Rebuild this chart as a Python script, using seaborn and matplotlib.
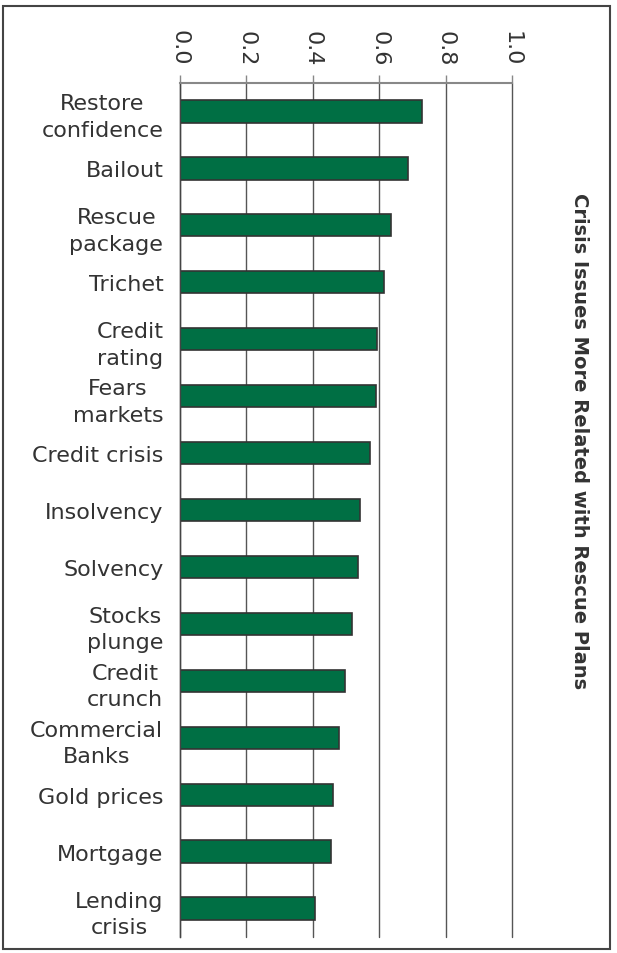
import numpy as np
import matplotlib
matplotlib.use("Agg")
import matplotlib.pyplot as plt
import seaborn as sns
from matplotlib.patches import Rectangle

# Data
terms = ["Restore\nconfidence", "Bailout", "Rescue\npackage", "Trichet",
         "Credit\nrating", "Fears\nmarkets", "Credit crisis", "Insolvency",
         "Solvency", "Stocks\nplunge", "Credit\ncrunch", "Commercial\nBanks",
         "Gold prices", "Mortgage", "Lending\ncrisis"]
scores = [0.730, 0.687, 0.637, 0.613, 0.594, 0.589, 0.571, 0.542,
          0.536, 0.519, 0.496, 0.479, 0.460, 0.454, 0.408]
x_ticks = [0.0, 0.2, 0.4, 0.6, 0.8, 1.0]
x_labels = ["0.0", "0.2", "0.4", "0.6", "0.8", "1.0"]
title = "Crisis Issues More Related with Rescue Plans"

sns.set_style("white")
plt.rcParams["font.family"] = ["DejaVu Sans"]

fig = plt.figure(figsize=(6.17, 9.54), dpi=100)
ax = fig.add_axes([180 / 617, 1 - 938 / 954, 332 / 617, 854 / 954])

sns.barplot(x=scores, y=terms, ax=ax, orient="h", color="#006f44",
            saturation=1, width=0.39, edgecolor="#333333", linewidth=1.2)

ax.set_xlim(0, 1)
ax.set_ylim(len(terms) - 0.5, -0.5)
ax.set_xlabel("")
ax.set_ylabel("")

# x axis on top, labels rotated
ax.xaxis.tick_top()
ax.set_xticks(x_ticks)
ax.set_xticklabels(x_labels, rotation=-90, fontsize=16, color="#333333")
ax.tick_params(axis="x", which="major", length=6, width=1, color="#888888",
               pad=7, direction="out")
ax.grid(axis="x", color="#555555", linewidth=1)
ax.grid(axis="y", visible=False)
for gl in ax.get_xgridlines():
    gl.set_clip_on(False)
ax.set_axisbelow(True)

# y axis: category labels without ticks, small ticks between categories
ax.tick_params(axis="y", which="major", length=0, pad=12, labelsize=16,
               labelcolor="#333333")
ax.set_yticks(np.arange(-0.5, len(terms), 1), minor=True)
ax.tick_params(axis="y", which="minor", length=6, width=1, color="#888888",
               direction="out")
for lbl in ax.get_yticklabels():
    lbl.set_multialignment("center")
    lbl.set_linespacing(1.4)

for side in ["right", "bottom"]:
    ax.spines[side].set_visible(False)
ax.spines["top"].set_color("#888888")
ax.spines["top"].set_linewidth(1.5)
ax.spines["left"].set_color("#444444")
ax.spines["left"].set_linewidth(1)

fig.text(0.94, 1 - 441 / 954, title, rotation=-90, ha="center", va="center",
         fontsize=14, fontweight="bold", color="#333333")

# frame around the whole chart
fig.add_artist(Rectangle((3 / 617, 4 / 954), 607 / 617, 943 / 954,
                         transform=fig.transFigure, fill=False,
                         edgecolor="#444444", linewidth=1.5))

fig.savefig("out.png", dpi=100)
